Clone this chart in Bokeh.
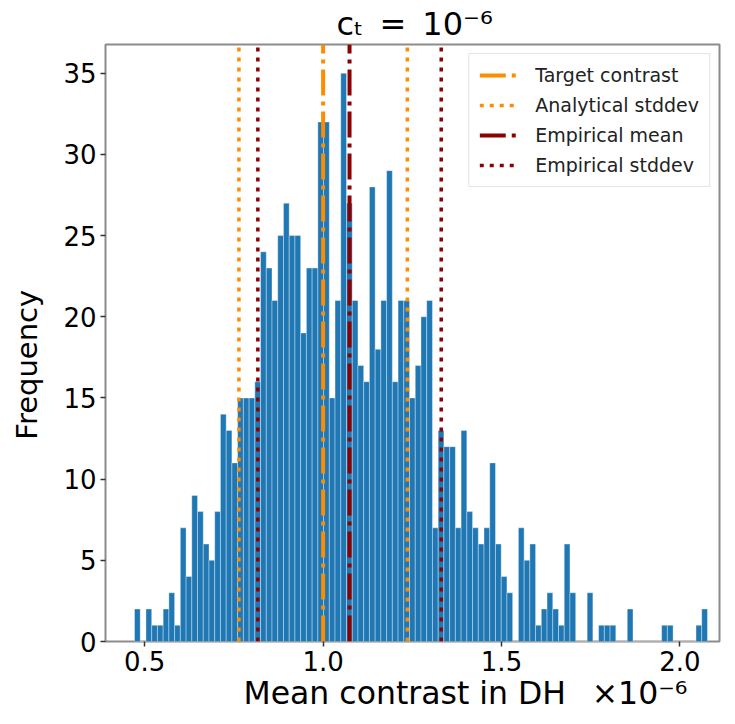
import numpy as np
from bokeh.plotting import figure
from bokeh.models import Legend, LegendItem, FixedTicker, Range1d, NumeralTickFormatter, Title
from bokeh.embed import file_html
from bokeh.resources import INLINE

# ---------------- data (contrast in units of 1e-6) ----------------
hist_min = 0.4713
hist_max = 2.0773
counts = [2, 0, 2, 1, 1, 2, 3, 1, 7, 4,
          9, 8, 6, 5, 8, 14, 13, 11, 15, 15,
          15, 16, 24, 23, 21, 25, 27, 25, 25, 19,
          23, 23, 32, 32, 15, 21, 35, 27, 21, 17,
          16, 28, 18, 21, 29, 16, 21, 21, 15, 17,
          20, 21, 7, 13, 12, 12, 7, 13, 8, 7,
          6, 7, 11, 6, 4, 3, 0, 7, 5, 6,
          1, 2, 3, 2, 1, 6, 3, 0, 0, 3,
          0, 1, 1, 1, 0, 0, 2, 0, 0, 0,
          0, 0, 1, 1, 0, 0, 0, 0, 1, 2]
target_contrast = 1.0
analytical_std = 0.236
empirical_mean = 1.074
empirical_std = 0.257

x_ticks = [0.5, 1.0, 1.5, 2.0]
y_ticks = [0, 5, 10, 15, 20, 25, 30, 35]

legend_labels = ["Target contrast", "Analytical stddev", "Empirical mean", "Empirical stddev"]
title_text = "c\u209c\u2002=\u200210\u207b\u2076"
x_label = "Mean contrast in DH\u2002 \u00d710\u207b\u2076"
y_label = "Frequency"

# ---------------- layout ----------------
W, H = 727, 722
ML, MT, MR, MB = 105, 42, 8, 81
X0, X1 = 0.39, 2.111
Y1 = 36.77
FONT = "DejaVu Sans"

edges = np.linspace(hist_min, hist_max, len(counts) + 1)

p = figure(width=W, height=H, output_backend="svg", toolbar_location=None,
           x_range=Range1d(X0, X1), y_range=Range1d(0, Y1),
           min_border_left=ML, min_border_right=MR,
           min_border_top=MT, min_border_bottom=MB)
p.background_fill_color = "white"
p.border_fill_color = "white"

# title
p.title.text = title_text
p.title.align = "left"
p.title.offset = 231
p.title.standoff = 4
p.title.vertical_align = "bottom"
p.title.text_font = FONT
p.title.text_font_size = "32px"
p.title.text_font_style = "normal"
p.title.text_color = "black"

p.quad(left=edges[:-1], right=edges[1:], bottom=0, top=counts,
       fill_color="#1f77b4", line_color="white", line_width=0.6, line_alpha=0.6)

ORANGE = "#ff8c00"
DARKRED = "#8b0000"

r_target = p.line(x=[target_contrast, target_contrast], y=[0, Y1],
                  line_color=ORANGE, line_width=4, line_dash="26 6 4 6")
a_lo = target_contrast - analytical_std
a_hi = target_contrast + analytical_std
r_astd = p.multi_line(xs=[[a_lo, a_lo], [a_hi, a_hi]], ys=[[0, Y1], [0, Y1]],
                      line_color=ORANGE, line_width=3.5, line_dash="4 6")
r_emean = p.line(x=[empirical_mean, empirical_mean], y=[0, Y1],
                 line_color=DARKRED, line_width=4, line_dash="26 6 4 6")
e_lo = empirical_mean - empirical_std
e_hi = empirical_mean + empirical_std
r_estd = p.multi_line(xs=[[e_lo, e_lo], [e_hi, e_hi]], ys=[[0, Y1], [0, Y1]],
                      line_color=DARKRED, line_width=3.5, line_dash="4 6")

legend = Legend(items=[LegendItem(label=legend_labels[0], renderers=[r_target]),
                       LegendItem(label=legend_labels[1], renderers=[r_astd]),
                       LegendItem(label=legend_labels[2], renderers=[r_emean]),
                       LegendItem(label=legend_labels[3], renderers=[r_estd])],
                location="top_right", margin=9, padding=10, spacing=8,
                glyph_width=40, glyph_height=20, label_height=20, label_standoff=16,
                label_text_font=FONT, label_text_font_size="19px", label_text_color="#222222",
                border_line_color="#cccccc", border_line_width=1.5,
                background_fill_color="white", background_fill_alpha=0.85)
p.add_layout(legend)

# axes
p.xaxis.ticker = FixedTicker(ticks=x_ticks)
p.yaxis.ticker = FixedTicker(ticks=y_ticks)
p.xaxis.formatter = NumeralTickFormatter(format="0.0")
p.grid.visible = False
p.axis.axis_line_color = None
p.axis.major_tick_line_color = "#333333"
p.axis.major_tick_line_width = 1.5
p.axis.major_tick_out = 5
p.axis.major_tick_in = 0
p.axis.minor_tick_line_color = None
p.axis.major_label_text_font = FONT
p.axis.major_label_text_font_size = "26px"
p.axis.major_label_text_color = "black"
p.axis.major_label_standoff = 4
p.outline_line_color = "#8c8c8c"
p.outline_line_width = 2

# y label (trailing en spaces shift the centred text downwards like the reference)
p.yaxis.axis_label = y_label + "\u2002\u2002\u2002"
p.yaxis.axis_label_standoff = 16
p.yaxis.axis_label_text_font = FONT
p.yaxis.axis_label_text_font_size = "29px"
p.yaxis.axis_label_text_font_style = "normal"
p.yaxis.axis_label_text_color = "black"

# x label together with the offset factor, placed below the axis
xl = Title(text=x_label, align="left", offset=138, standoff=2, vertical_align="top",
           text_font=FONT, text_font_size="31.5px", text_font_style="normal", text_color="black")
p.add_layout(xl, "below")

open("out.html", "w").write(file_html(p, INLINE))
